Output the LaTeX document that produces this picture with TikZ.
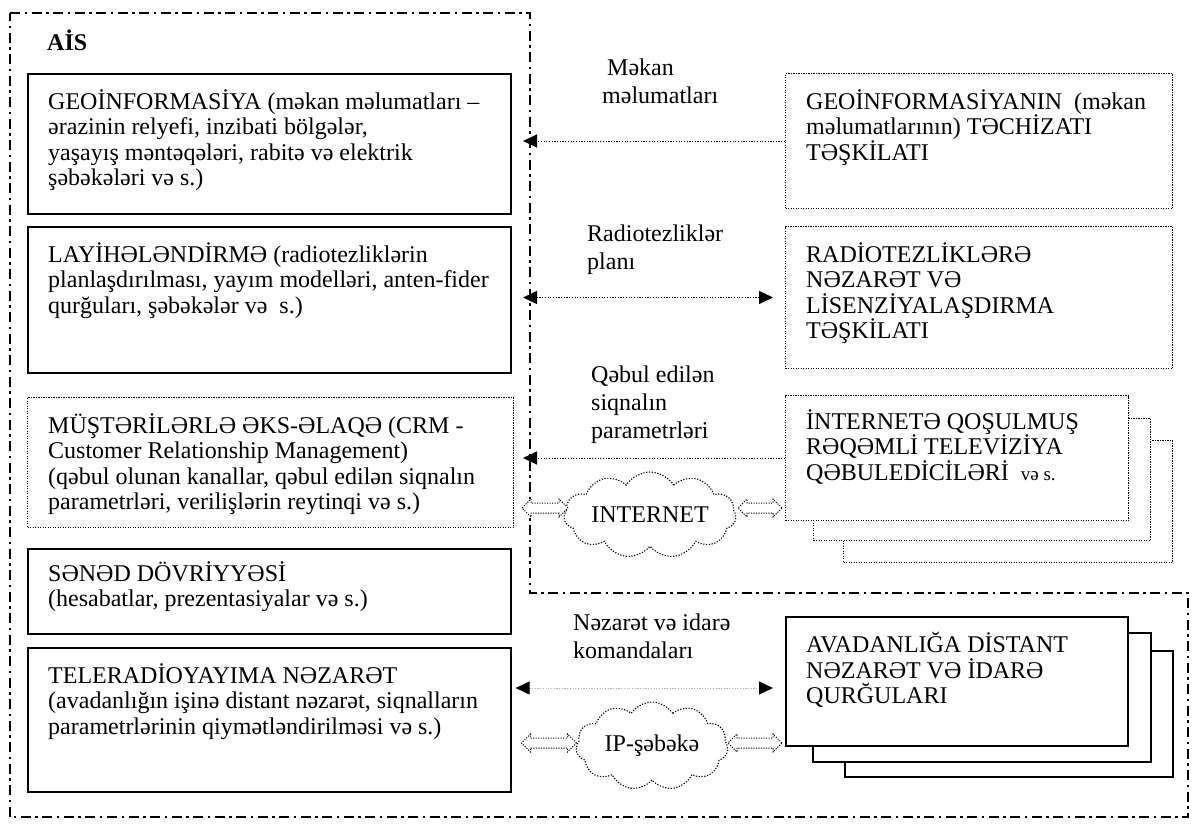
\documentclass[tikz,border=0pt]{standalone}
\usepackage{fontspec}
\setmainfont{Liberation Serif}
\usetikzlibrary{arrows.meta, positioning, shapes.symbols, shapes.arrows}

\tikzset{
  bigtip/.tip={Triangle[length=14pt, width=13pt]},
  sysbox/.style={draw, line width=1.6pt, inner sep=0pt, anchor=north west, fill=white},
  extbox/.style={draw, dash pattern=on 1.2pt off 1.3pt, line width=1pt, inner sep=0pt, anchor=north west, fill=white},
  boxtext/.style={align=left, inner sep=0pt},
  lbl/.style={anchor=north west, align=left, inner sep=0pt, font=\fontsize{24}{28}\selectfont},
  flow/.style={dash pattern=on 1.2pt off 1.5pt, line width=1pt},
  aisline/.style={line width=2pt, dash pattern=on 10pt off 4.5pt on 2.5pt off 4.5pt},
  netcloud/.style={cloud, cloud puffs=11, cloud puff arc=115, cloud ignores aspect, draw, dash pattern=on 1.2pt off 1.6pt, line width=1.1pt, inner sep=0pt},
  hollow/.style={double arrow, draw, dash pattern=on 1.2pt off 1.3pt, line width=1pt, inner xsep=0pt, inner ysep=4.5pt, minimum width=17pt, double arrow head extend=4pt, fill=white}
}

\begin{document}
\begin{tikzpicture}[x=1pt, y=-1pt, font=\fontsize{24}{25.5}\selectfont]
  \useasboundingbox (0,0) rectangle (1192,823);

  %--------------------------
  % AiS frame
  %--------------------------
  \draw[aisline] (10,13) -- (530,13) -- (530,593) -- (1188,593) -- (1188,817) -- (10,817) -- cycle;
  \node[anchor=base west, inner sep=0pt, font=\fontsize{24}{25.5}\selectfont\bfseries] (aislbl) at (47,50) {AİS};
  \coordinate (aisR) at (523,0);

  % left column
  \node[sysbox, minimum width=483pt, minimum height=140pt] (geo) at (27,73) {};
  \node[boxtext, below right=16pt and 21pt of geo.north west] (geotext)
    {GEOİNFORMASİYA (məkan məlumatları –\\ərazinin relyefi, inzibati bölgələr,\\yaşayış məntəqələri, rabitə və elektrik\\şəbəkələri və s.)};

  \node[sysbox, minimum width=483pt, minimum height=146pt] (proj) at (27,226) {};
  \node[boxtext, below right=16pt and 21pt of proj.north west] (projtext)
    {LAYİHƏLƏNDİRMƏ (radiotezliklərin\\planlaşdırılması, yayım modelləri, anten-fider\\qurğuları, şəbəkələr və~~s.)};

  \node[extbox, minimum width=486pt, minimum height=130pt] (crm) at (27,397) {};
  \node[boxtext, below right=16pt and 21pt of crm.north west] (crmtext)
    {MÜŞTƏRİLƏRLƏ ƏKS-ƏLAQƏ (CRM -\\Customer Relationship Management)\\(qəbul olunan kanallar, qəbul edilən siqnalın\\parametrləri, verilişlərin reytinqi və s.)};

  \node[sysbox, minimum width=483pt, minimum height=85pt] (docs) at (27,548) {};
  \node[boxtext, below right=13pt and 21pt of docs.north west] (docstext)
    {SƏNƏD DÖVRİYYƏSİ\\(hesabatlar, prezentasiyalar və s.)};

  \node[sysbox, minimum width=483pt, minimum height=144pt] (tele) at (27,647) {};
  \node[boxtext, below right=16pt and 21pt of tele.north west] (teletext)
    {TELERADİOYAYIMA NƏZARƏT\\(avadanlığın işinə distant nəzarət, siqnalların\\parametrlərinin qiymətləndirilməsi və s.)};

  %--------------------------
  % outside sources
  %--------------------------
  \node[extbox, minimum width=387pt, minimum height=135pt] (geosrc) at (785,73) {};
  \node[boxtext, below right=16pt and 21pt of geosrc.north west] (geosrctext)
    {GEOİNFORMASİYANIN~~(məkan\\məlumatlarının) TƏCHİZATI\\TƏŞKİLATI};

  \node[extbox, minimum width=387pt, minimum height=142pt] (radio) at (785,226) {};
  \node[boxtext, below right=16pt and 21pt of radio.north west] (radiotext)
    {RADİOTEZLİKLƏRƏ\\NƏZARƏT VƏ\\LİSENZİYALAŞDIRMA\\TƏŞKİLATI};

  % receivers (stack)
  \node[extbox, minimum width=329pt, minimum height=122pt] (tvback) at (843,440) {};
  \node[extbox, minimum width=337pt, minimum height=122pt] (tvmid) at (813,418) {};
  \node[extbox, minimum width=343pt, minimum height=125pt] (tvrecv) at (785,395) {};
  \node[boxtext, below right=14pt and 21pt of tvrecv.north west] (tvtext)
    {İNTERNETƏ QOŞULMUŞ\\RƏQƏMLİ TELEVİZİYA\\QƏBULEDİCİLƏRİ~~{\fontsize{19}{20}\selectfont və s.}};

  % remote devices (stack)
  \node[sysbox, minimum width=328pt, minimum height=126pt] (devback) at (844,650) {};
  \node[sysbox, minimum width=338pt, minimum height=129pt] (devmid) at (812,632) {};
  \node[sysbox, minimum width=342pt, minimum height=129pt] (dev) at (785,616) {};
  \node[boxtext, below right=16pt and 21pt of dev.north west] (devtext)
    {AVADANLIĞA DİSTANT\\NƏZARƏT VƏ İDARƏ\\QURĞULARI};

  %--------------------------
  % networks
  %--------------------------
  \node[netcloud, minimum width=172pt, minimum height=86pt] (inet) at (650,515) {INTERNET};
  \node[hollow, minimum height=46pt] (inetL) at (545,508) {};
  \node[hollow, minimum height=44pt] (inetR) at (760,508) {};

  \node[netcloud, minimum width=152pt, minimum height=88pt] (ipnet) at (652,746) {IP-şəbəkə};
  \node[hollow, minimum height=55pt] (ipL) at (549,743) {};
  \node[hollow, minimum height=54pt] (ipR) at (755,743) {};

  %--------------------------
  % flows
  %--------------------------
  \node[lbl] (geolbl) at (602,59) {\hspace*{5pt}Məkan\\məlumatları};
  \draw[flow, -bigtip] (geosrc.west) -- (geosrc.west -| aisR);

  \node[lbl] (radiolbl) at (587,225) {Radiotezliklər\\planı};
  \draw[flow, bigtip-bigtip, shorten >=12pt] (radio.west -| aisR) -- (radio.west);

  \node[lbl] (tvlbl) at (591,366) {Qəbul edilən\\siqnalın\\parametrləri};
  \draw[flow, -bigtip] (tvrecv.west) -- (tvrecv.west -| aisR);

  \coordinate (ctl) at (0,688);
  \node[lbl] (devlbl) at (573,614) {Nəzarət və idarə\\komandaları};
  \draw[flow, draw=gray!60, {Triangle[length=14pt, width=13pt, black]}-{Triangle[length=14pt, width=13pt, black]}]
    ([xshift=4pt]tele.east |- ctl) -- ([xshift=-12pt]dev.west |- ctl);

\end{tikzpicture}
\end{document}
